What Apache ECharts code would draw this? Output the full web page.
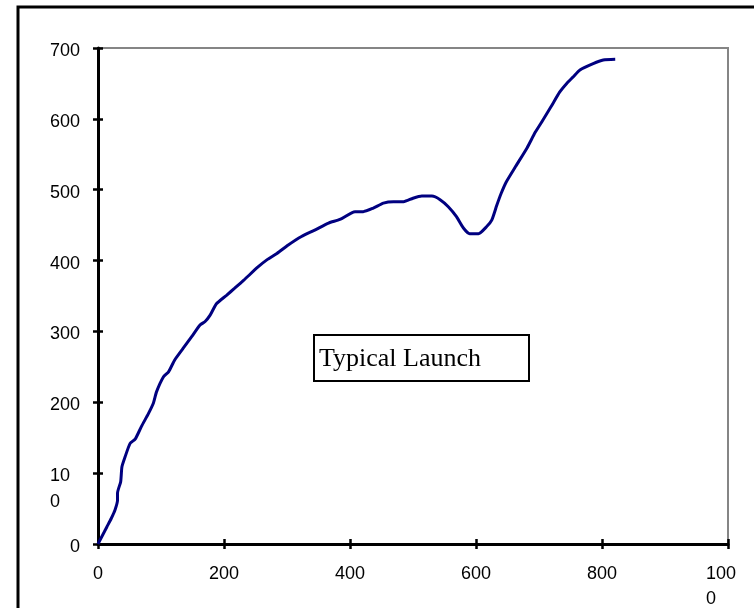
<!DOCTYPE html>
<html>
<head>
<meta charset="utf-8">
<script src="https://cdn.jsdelivr.net/npm/echarts@6/dist/echarts.min.js"></script>
<style>
  html, body { margin: 0; padding: 0; background: #fff; }
  #chart { width: 754px; height: 608px; }
</style>
</head>
<body>
<div id="chart"></div>
<script>
// Launch trajectory samples
const timeValues = [
  0, 7, 14, 21, 27, 31, 31, 36, 38, 43, 51, 59, 69, 80, 88, 93, 104, 112, 122, 135,
  149, 162, 170, 178, 188, 204, 217, 231, 254, 268, 284, 302, 323, 344, 366, 384, 408, 421, 437, 453,
  469, 485, 500, 514, 530, 543, 556, 569, 580, 590, 604, 617, 625, 633, 640, 648, 663, 681, 694, 706,
  719, 733, 744, 754, 765, 786, 802, 821
];
const altitudeValues = [
  0, 12, 24, 36, 48, 62, 72, 88, 109, 123, 142, 148, 166, 184, 199, 215, 236, 243, 260, 276,
  293, 309, 314, 323, 339, 351, 361, 372, 391, 401, 410, 422, 434, 443, 453, 458, 469, 469, 474, 481,
  483, 483, 488, 491, 491, 486, 476, 462, 446, 438, 438, 448, 457, 478, 495, 511, 533, 559, 581, 598,
  617, 638, 650, 659, 669, 678, 683, 684
];
const xTicks = [0, 200, 400, 600, 800, 1000];
const yTicks = [0, 100, 200, 300, 400, 500, 600, 700];
const boxLabel = 'Typical Launch';

const points = timeValues.map((t, i) => [t, altitudeValues[i]]);

const sansFont = '"Liberation Sans", Arial, sans-serif';
const labelSize = 18;

const chart = echarts.init(document.getElementById('chart'), null, { renderer: 'canvas' });

chart.setOption({
  animation: false,
  backgroundColor: '#fff',
  grid: {
    left: 98, top: 48, right: 26, bottom: 64,
    containLabel: false,
    outerBoundsMode: 'none',
    show: true,
    borderColor: '#858585',
    borderWidth: 2,
    backgroundColor: 'transparent'
  },
  xAxis: [
    {
      type: 'value', min: xTicks[0], max: xTicks[xTicks.length - 1], interval: 200, position: 'bottom',
      splitLine: { show: false },
      axisLine: { show: true, onZero: false, lineStyle: { color: '#000', width: 3 } },
      axisTick: { show: true, inside: false, length: 5, lineStyle: { color: '#000', width: 2.5 } },
      axisLabel: {
        margin: 18,
        color: '#000',
        fontFamily: sansFont,
        fontSize: labelSize,
        lineHeight: 25,
        formatter: function (v) {
          if (v === 1000) return '{w|100}\n{w|0}';
          return String(v);
        },
        rich: {
          w: { width: 44, align: 'left', fontFamily: sansFont, fontSize: labelSize, lineHeight: 25, color: '#000' }
        }
      }
    },
    {
      type: 'value', min: xTicks[0], max: xTicks[xTicks.length - 1], interval: 200, position: 'bottom',
      splitLine: { show: false },
      axisLine: { show: false, onZero: false },
      axisTick: { show: true, inside: true, length: 5, lineStyle: { color: '#000', width: 2.5 } },
      axisLabel: { show: false }
    }
  ],
  yAxis: [
    {
      type: 'value', min: yTicks[0], max: yTicks[yTicks.length - 1], interval: 100, position: 'left',
      splitLine: { show: false },
      axisLine: { show: true, onZero: false, lineStyle: { color: '#000', width: 3 } },
      axisTick: { show: true, inside: false, length: 5, lineStyle: { color: '#000', width: 2.5 } },
      axisLabel: {
        margin: 18,
        color: '#000',
        fontFamily: sansFont,
        fontSize: labelSize,
        padding: [6, 0, 0, 0],
        formatter: function (v) {
          if (v === 100) return '{w| }\n{w|10}\n{w|0}';
          return String(v);
        },
        rich: {
          w: { width: 30, align: 'left', fontFamily: sansFont, fontSize: labelSize, lineHeight: 26, color: '#000' }
        }
      }
    },
    {
      type: 'value', min: yTicks[0], max: yTicks[yTicks.length - 1], interval: 100, position: 'left',
      splitLine: { show: false },
      axisLine: { show: false, onZero: false },
      axisTick: { show: true, inside: true, length: 5, lineStyle: { color: '#000', width: 2.5 } },
      axisLabel: { show: false }
    }
  ],
  graphic: [
    {
      type: 'rect',
      shape: { x: 18, y: 7, width: 800, height: 700 },
      style: { fill: 'none', stroke: '#000', lineWidth: 3 },
      z: 100
    },
    {
      type: 'group',
      left: 313, top: 334,
      z: 100,
      children: [
        {
          type: 'rect',
          shape: { x: 0, y: 0, width: 215, height: 46 },
          style: { fill: '#fff', stroke: '#000', lineWidth: 2 }
        },
        {
          type: 'text',
          x: 5, y: 24,
          style: {
            text: boxLabel,
            fill: '#000',
            font: '26px "Liberation Serif", "Times New Roman", serif',
            verticalAlign: 'middle',
            align: 'left'
          }
        }
      ]
    }
  ],
  series: [
    {
      type: 'line',
      xAxisIndex: 0,
      yAxisIndex: 0,
      data: points,
      showSymbol: false,
      smooth: 0.2,
      lineStyle: { color: '#000080', width: 3 },
      z: 5
    }
  ]
});
</script>
</body>
</html>
